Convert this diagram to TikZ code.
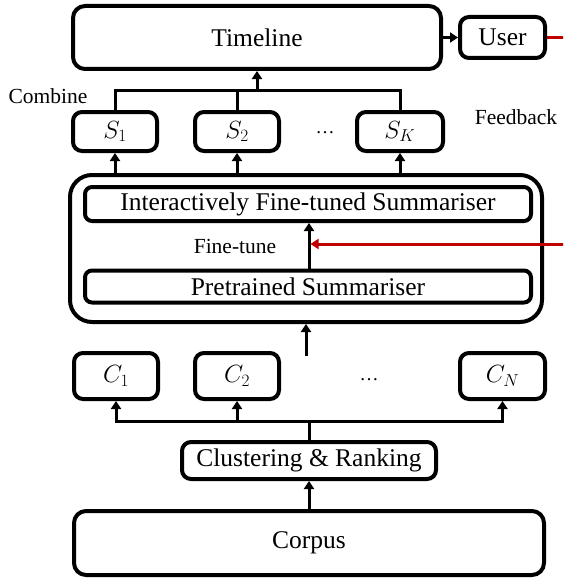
\documentclass[tikz,border=0pt]{standalone}
\usepackage{fontspec}
\setmainfont{Liberation Serif}
\usetikzlibrary{arrows.meta}
\definecolor{fbred}{RGB}{192,0,0}
\tikzset{
  box/.style={draw=black, line width=4pt, rounded corners=9pt, inner sep=0pt, align=center,
    font=\fontsize{25.5}{30}\selectfont},
  arr/.style={line width=3pt, -{Triangle[length=8pt,width=10pt]}},
  ln/.style={line width=3pt},
  redarr/.style={line width=3pt, draw=fbred, -{Triangle[length=8pt,width=10pt]}, fbred},
  lbl/.style={inner sep=0pt, font=\fontsize{21.5}{25}\selectfont},
  mth/.style={font=\fontsize{23}{27}\selectfont},
  dots/.style={inner sep=0pt, anchor=base, font=\fontsize{19}{22}\selectfont},
}
\begin{document}
\begin{tikzpicture}[x=1pt, y=-1pt]
\useasboundingbox (0,0) rectangle (563,578);
\clip (0,0) rectangle (563,578);
% top
\node[box, rounded corners=12pt, minimum width=368pt, minimum height=63pt] (tl) at (257,37.5) {Timeline};
\node[box, minimum width=85pt, minimum height=41pt] (user) at (502.5,37.5) {User};
\draw[arr] (tl.east) -- (user.west);
% S boxes
\node[box, mth, minimum width=84pt, minimum height=39pt] (s1) at (115,131.5) {$S_1$};
\node[box, mth, minimum width=84pt, minimum height=39pt] (s2) at (237,131.5) {$S_2$};
\node[box, mth, minimum width=86pt, minimum height=39pt] (sk) at (400,131.5) {$S_K$};
\node[dots] (sdots) at (325,133) {…};
\node[lbl] (comb) at (48,96) {Combine};
\node[lbl] (fb) at (516,117) {Feedback};
\coordinate (sbus) at (257,90);
\coordinate (sbl) at (115,90);
\coordinate (sbr) at (400,90);
\draw[ln] (s1.north) -- (sbl) -- (sbr) -- (sk.north);
\draw[ln] (s2.north) -- (s2.north |- sbus);
\draw[arr] (sbus) -- (tl.south);
% big box
\node[box, rounded corners=22pt, minimum width=472pt, minimum height=147pt] (big) at (306,248.5) {};
\node[box, rounded corners=7pt, minimum width=446pt, minimum height=34pt] (ifs) at (308,204) {Interactively Fine-tuned Summariser};
\node[box, rounded corners=7pt, minimum width=446pt, minimum height=32pt] (ps) at (308,286.5) {Pretrained Summariser};
\coordinate (ftx) at (309,0);
\draw[arr] (ps.north -| ftx) -- (ifs.south -| ftx);
\node[lbl] (ft) at (235,246) {Fine-tune};
\draw[arr] (s1.south |- big.north) -- (s1.south);
\draw[arr] (s2.south |- big.north) -- (s2.south);
\draw[arr] (sk.south |- big.north) -- (sk.south);
\coordinate (bigin) at (306,356);
\draw[arr] (bigin) -- (big.south -| bigin);
% feedback loop
\coordinate (fr1) at (590,37.5);
\coordinate (fr2) at (590,244);
\coordinate (ftin) at (309,244);
\draw[ln, draw=fbred] (user.east) -- (fr1) -- (fr2);
\draw[redarr] (fr2) -- ([xshift=1.5pt]ftin);
% C boxes
\node[box, mth, minimum width=84pt, minimum height=46pt] (c1) at (116,376) {$C_1$};
\node[box, mth, minimum width=84pt, minimum height=46pt] (c2) at (237,376) {$C_2$};
\node[box, mth, minimum width=85pt, minimum height=46pt] (cn) at (502.5,376) {$C_N$};
\node[dots] (cdots) at (369,380) {…};
% clustering and corpus
\node[box, minimum width=254pt, minimum height=37pt] (cr) at (309,460.5) {Clustering \& Ranking};
\node[box, rounded corners=12pt, minimum width=470pt, minimum height=64pt] (corp) at (309,543) {Corpus};
\draw[arr] (corp.north) -- (cr.south);
\coordinate (cbus) at (309,421);
\draw[ln] (cr.north) -- (cbus);
\draw[arr] (cbus) -| (c1.south);
\draw[arr] (cbus) -| (c2.south);
\draw[arr] (cbus) -| (cn.south);
\end{tikzpicture}
\end{document}
